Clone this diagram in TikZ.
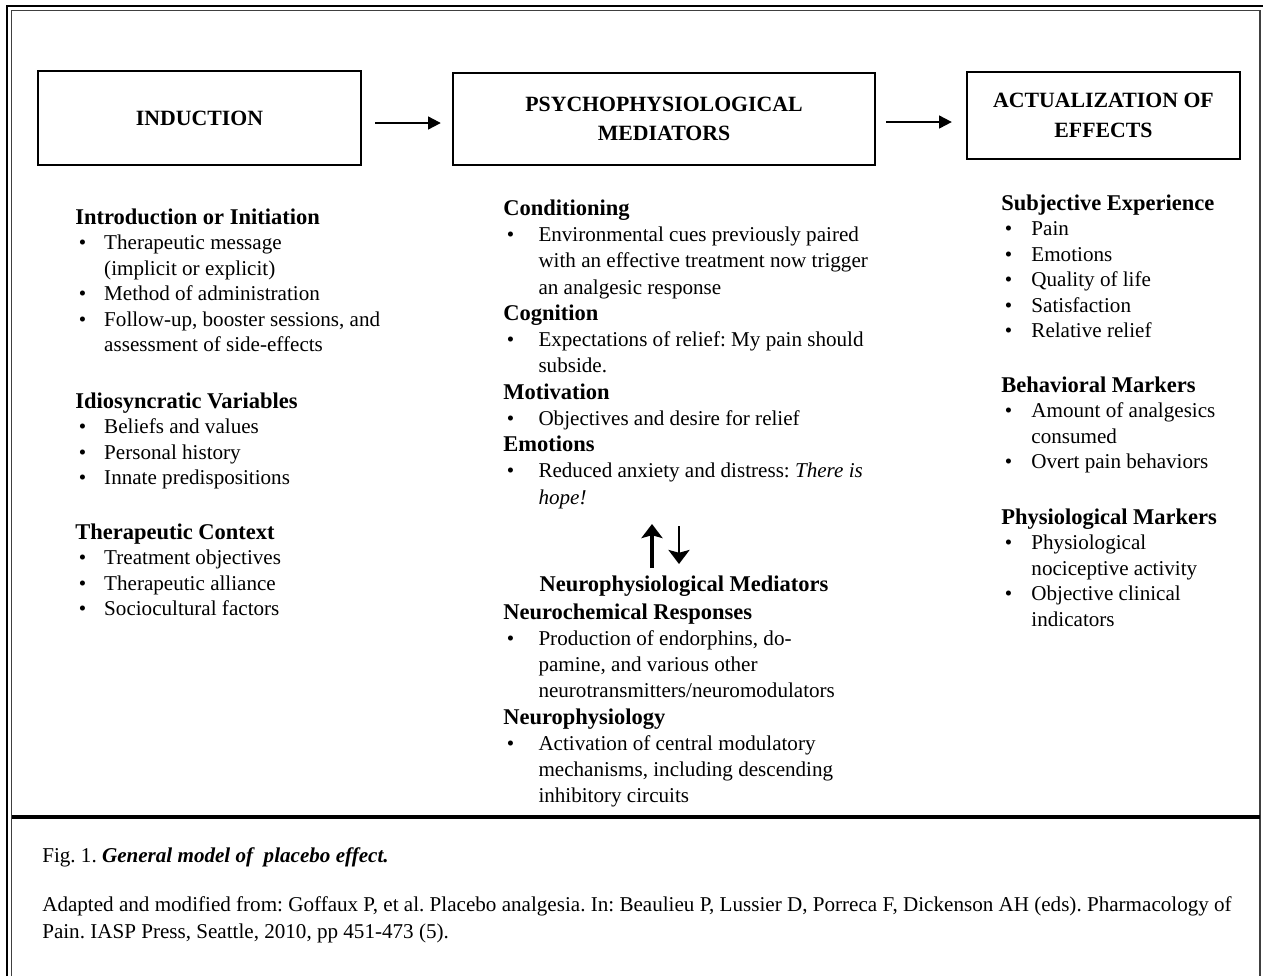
\documentclass[tikz,border=0pt]{standalone}
\usepackage{fontspec}
\setmainfont{Liberation Serif}
\usepackage{tikz}
\usetikzlibrary{
  arrows.meta,
  positioning,
  calc
}
\frenchspacing
\newcommand{\hd}[1]{{\fontsize{16}{18}\selectfont\bfseries\strut #1}}
\newcommand{\bl}[1][20.6pt]{\makebox[#1][l]{\hspace{2.5pt}\textbullet}}
\newcommand{\ct}[1][20.6pt]{\hspace*{#1}}
\newcommand{\topstrut}{{\fontsize{16}{18}\selectfont\strut}}
\tikzset{
  stage box/.style={
    draw, line width=1.6pt, inner sep=0pt, align=center,
    font=\fontsize{15.5}{21}\selectfont\bfseries
  },
  flow arrow/.style={
    -{Triangle[length=9pt,width=9pt]}, line width=1.5pt
  },
  swap arrow/.style={
    -{Stealth[length=10pt,width=15pt,inset=2pt]}
  },
  % first baseline sits at the given coordinate
  item group/.style={
    anchor=north west, yshift=12.6pt, align=left, inner sep=0pt,
    font=\fontsize{15}{18.14}\selectfont
  },
}

\begin{document}
\begin{tikzpicture}[x=0.025cm, y=-0.025cm]
  \useasboundingbox (0,0) rectangle (1263,976);

  % Frame
  \draw[line width=2pt] (7,976) -- (7,6) -- (1263,6);
  \draw[line width=0.8pt, black!75] (11.5,976) -- (11.5,10.5) -- (1260,10.5) -- (1260,976);
  \draw[line width=2.2pt] (11.5,817) -- (1260,817);

  % Stages
  \node[stage box, minimum width=8.075cm, minimum height=2.35cm]
    (induction) at (199.5,118) {INDUCTION};
  \node[stage box, minimum width=10.55cm, minimum height=2.3cm]
    (psych) at (664,119) {PSYCHOPHYSIOLOGICAL\\MEDIATORS};
  \node[stage box, minimum width=6.825cm, minimum height=2.175cm]
    (actual) at (1103.5,115.5) {ACTUALIZATION OF\\EFFECTS};

  % Arrows between stages
  \draw[flow arrow] ($(induction.east)+(13,5)$) -- ($(induction.east -| psych.west)+(-11,5)$);
  \draw[flow arrow] ($(psych.east)+(10,3)$) -- ($(psych.east -| actual.west)+(-14,3)$);

  % Induction
  \node[item group] (intro) at (75,224) {\hd{Introduction or Initiation}\\
    \bl Therapeutic message\\
    \ct (implicit or explicit)\\
    \bl Method of administration\\
    \bl Follow-up, booster sessions, and\\
    \ct assessment of side-effects};
  \node[item group] (idio) at (75,408) {\hd{Idiosyncratic Variables}\\
    \bl Beliefs and values\\
    \bl Personal history\\
    \bl Innate predispositions};
  \node[item group] (context) at (75,539) {\hd{Therapeutic Context}\\
    \bl Treatment objectives\\
    \bl Therapeutic alliance\\
    \bl Sociocultural factors};

  % Psychophysiological mediators
  \node[item group, font=\fontsize{15}{18.68}\selectfont] (psychlist) at (503,215) {\hd{Conditioning}\\
    \bl[21.3pt] Environmental cues previously paired\\
    \ct[21.3pt] with an effective treatment now trigger\\
    \ct[21.3pt] an analgesic response\\
    \hd{Cognition}\\
    \bl[21.3pt] Expectations of relief: My pain should\\
    \ct[21.3pt] subside.\\
    \hd{Motivation}\\
    \bl[21.3pt] Objectives and desire for relief\\
    \hd{Emotions}\\
    \bl[21.3pt] Reduced anxiety and distress: \textit{There is}\\
    \ct[21.3pt] \textit{hope!}};

  \coordinate (uplo) at (652,568);
  \coordinate (uphi) at (652,524);
  \coordinate (dnhi) at (679,526);
  \coordinate (dnlo) at (679,564);
  \draw[swap arrow, line width=2.6pt] (uplo) -- (uphi);
  \draw[swap arrow, line width=1.8pt] (dnhi) -- (dnlo);

  \node[anchor=base, inner sep=0pt, font=\fontsize{16}{18}\selectfont\bfseries]
    (neurotitle) at (684,591) {Neurophysiological Mediators};
  \node[item group, font=\fontsize{15}{18.64}\selectfont] (neurolist) at (503,619) {\hd{Neurochemical Responses}\\
    \bl[21.3pt] Production of endorphins, do-\\
    \ct[21.3pt] pamine, and various other\\
    \ct[21.3pt] neurotransmitters/neuromodulators\\
    \hd{Neurophysiology}\\
    \bl[21.3pt] Activation of central modulatory\\
    \ct[21.3pt] mechanisms, including descending\\
    \ct[21.3pt] inhibitory circuits};

  % Actualization of effects
  \node[item group] (subj) at (1001,210) {\hd{Subjective Experience}\\
    \bl[17.7pt] Pain\\
    \bl[17.7pt] Emotions\\
    \bl[17.7pt] Quality of life\\
    \bl[17.7pt] Satisfaction\\
    \bl[17.7pt] Relative relief};
  \node[item group] (behav) at (1001,392) {\hd{Behavioral Markers}\\
    \bl[17.7pt] Amount of analgesics\\
    \ct[17.7pt] consumed\\
    \bl[17.7pt] Overt pain behaviors};
  \node[item group] (physio) at (1001,524) {\hd{Physiological Markers}\\
    \bl[17.7pt] Physiological\\
    \ct[17.7pt] nociceptive activity\\
    \bl[17.7pt] Objective clinical\\
    \ct[17.7pt] indicators};

  % Caption
  \node[item group] (caption) at (42,862)
    {\topstrut Fig. 1. \textbf{\textit{General model of \ placebo effect.}}};
  \node[item group, font=\fontsize{15}{19.1}\selectfont] (source) at (42,911)
    {\topstrut Adapted and modified from: Goffaux P, et al. Placebo analgesia. In: Beaulieu P, Lussier D, Porreca F, Dickenson AH (eds). Pharmacology of\\
     Pain. IASP Press, Seattle, 2010, pp 451-473 (5).};

\end{tikzpicture}
\end{document}
